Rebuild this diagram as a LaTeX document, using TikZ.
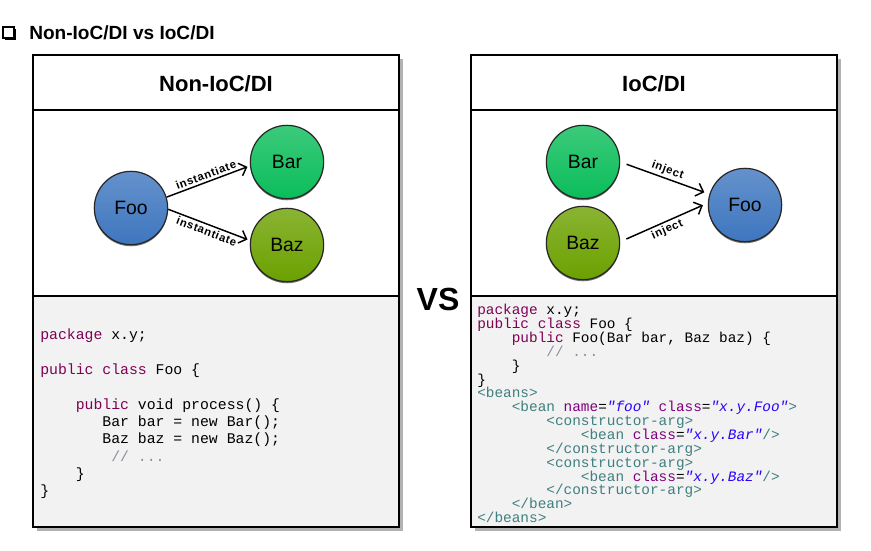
\documentclass[tikz,border=0pt]{standalone}
\usepackage{fontspec}
\setmainfont{Liberation Sans}
\setmonofont{Liberation Mono}
\newfontfamily\lblfont[LetterSpace=6]{Liberation Sans}
\usetikzlibrary{arrows.meta,shadows}

\definecolor{fooblue}{HTML}{3E76BF}
\definecolor{bargreen}{HTML}{0BBD5A}
\definecolor{bazolive}{HTML}{6CA100}
\definecolor{codebg}{HTML}{F2F2F2}
\definecolor{kwcol}{HTML}{7F0055}
\definecolor{cmtcol}{HTML}{8F8FA0}
\definecolor{tagcol}{HTML}{3F7F7F}
\definecolor{attcol}{HTML}{7F007F}
\definecolor{valcol}{HTML}{2A00FF}

\newcommand\kw[1]{\textcolor{kwcol}{#1}}
\newcommand\cmt[1]{\textcolor{cmtcol}{#1}}
\newcommand\xtag[1]{\textcolor{tagcol}{#1}}
\newcommand\xatt[1]{\textcolor{attcol}{#1}}
\newcommand\xval[1]{\textcolor{valcol}{\itshape#1}}
\newcommand\codeindent[1]{\hspace*{\dimexpr#1\fontcharwd\font`x\relax}}

\tikzset{
  ball/.style={circle, draw=black!85, line width=0.9pt, minimum size=55pt, inner sep=0pt,
    top color=#1!80!white, bottom color=#1, font=\fontsize{14.5}{16}\selectfont,
    general shadow={fill=black!55, shadow yshift=-1.2pt}},
  arr/.style={-{Straight Barb[length=5pt,width=10pt]}, line width=1.1pt, shorten >=2pt},
  lbl/.style={font={\lblfont\bfseries\fontsize{8.5}{9}\selectfont}, sloped, inner sep=1.5pt},
  panel/.style={line width=0.8pt, draw=black},
  head/.style={font=\fontsize{16.5}{18}\bfseries},
  oldcode/.style={anchor=north west, inner sep=0pt, align=left,
    font=\fontsize{11.1}{13}\ttfamily},
  newcode/.style={anchor=north west, inner sep=0pt, align=left,
    font=\fontsize{10.8}{10.4}\ttfamily}
}

\begin{document}
\begin{tikzpicture}[x=0.75pt, y=-0.75pt]
\useasboundingbox (0,0) rectangle (871,550);

% title
\fill[black] (5,29) rectangle (16,40);
\filldraw[fill=white, draw=black, line width=0.8pt] (3,27) rectangle (14,38);
\node[anchor=west, inner sep=0pt, font=\fontsize{14.3}{16}\bfseries] (title) at (29,33) {Non-IoC/DI vs IoC/DI};

% left panel
\fill[black!30] (37,59) rectangle (403,531);
\fill[white] (33,55) rectangle (399,296);
\fill[codebg] (33,296) rectangle (399,527);
\draw[panel] (33,55) rectangle (399,527);
\draw[panel] (33,110) -- (399,110);
\draw[panel] (33,296) -- (399,296);
\node[head] (lhead) at (216,84) {Non-IoC/DI};

% right panel
\fill[black!30] (475,59) rectangle (841,531);
\fill[white] (471,55) rectangle (837,296);
\fill[codebg] (471,296) rectangle (837,527);
\draw[panel] (471,55) rectangle (837,527);
\draw[panel] (471,110) -- (837,110);
\draw[panel] (471,296) -- (837,296);
\node[head] (rhead) at (654,84) {IoC/DI};

\node[font=\fontsize{24}{26}\bfseries] (vs) at (438,299) {VS};

% without IoC
\node[ball=fooblue] (lfoo) at (131,208) {Foo};
\node[ball=bargreen] (lbar) at (287,162) {Bar};
\node[ball=bazolive] (lbaz) at (287,245) {Baz};
\draw[arr] (lfoo.17) -- (lbar.186) node[lbl, midway, above] {instantiate};
\draw[arr] (lfoo.-2) -- (lbaz.173) node[lbl, midway, below] {instantiate};

% with IoC
\node[ball=bargreen] (rbar) at (583,162) {Bar};
\node[ball=bazolive] (rbaz) at (583,243) {Baz};
\node[ball=fooblue] (rfoo) at (745,205) {Foo};
\draw[arr, shorten <=5pt, shorten >=4pt] (rbar.east) -- (rfoo.163) node[lbl, midway, above] {inject};
\draw[arr, shorten <=5pt, shorten >=4pt] (rbaz.2) -- (rfoo.177) node[lbl, midway, below] {inject};

% code
\node[oldcode] (oldsrc) at (40,329) {%
\kw{package} x.y;\\
\mbox{}\\
\kw{public} \kw{class} Foo \{\\
\mbox{}\\
\codeindent{4}\kw{public} void process() \{\\
\codeindent{7}Bar bar = new Bar();\\
\codeindent{7}Baz baz = new Baz();\\
\codeindent{8}\cmt{// ...}\\
\codeindent{4}\}\\
\}};

\node[newcode] (newsrc) at (477,304) {%
\kw{package} x.y;\\
\kw{public} \kw{class} Foo \{\\
\codeindent{4}\kw{public} Foo(Bar bar, Baz baz) \{\\
\codeindent{8}\cmt{// ...}\\
\codeindent{4}\}\\
\}\\
\xtag{<beans>}\\
\codeindent{4}\xtag{<bean} \xatt{name}=\xval{"foo"} \xatt{class}=\xval{"x.y.Foo"}\xtag{>}\\
\codeindent{8}\xtag{<constructor-arg>}\\
\codeindent{12}\xtag{<bean} \xatt{class}=\xval{"x.y.Bar"}\xtag{/>}\\
\codeindent{8}\xtag{</constructor-arg>}\\
\codeindent{8}\xtag{<constructor-arg>}\\
\codeindent{12}\xtag{<bean} \xatt{class}=\xval{"x.y.Baz"}\xtag{/>}\\
\codeindent{8}\xtag{</constructor-arg>}\\
\codeindent{4}\xtag{</bean>}\\
\xtag{</beans>}};
\end{tikzpicture}
\end{document}
